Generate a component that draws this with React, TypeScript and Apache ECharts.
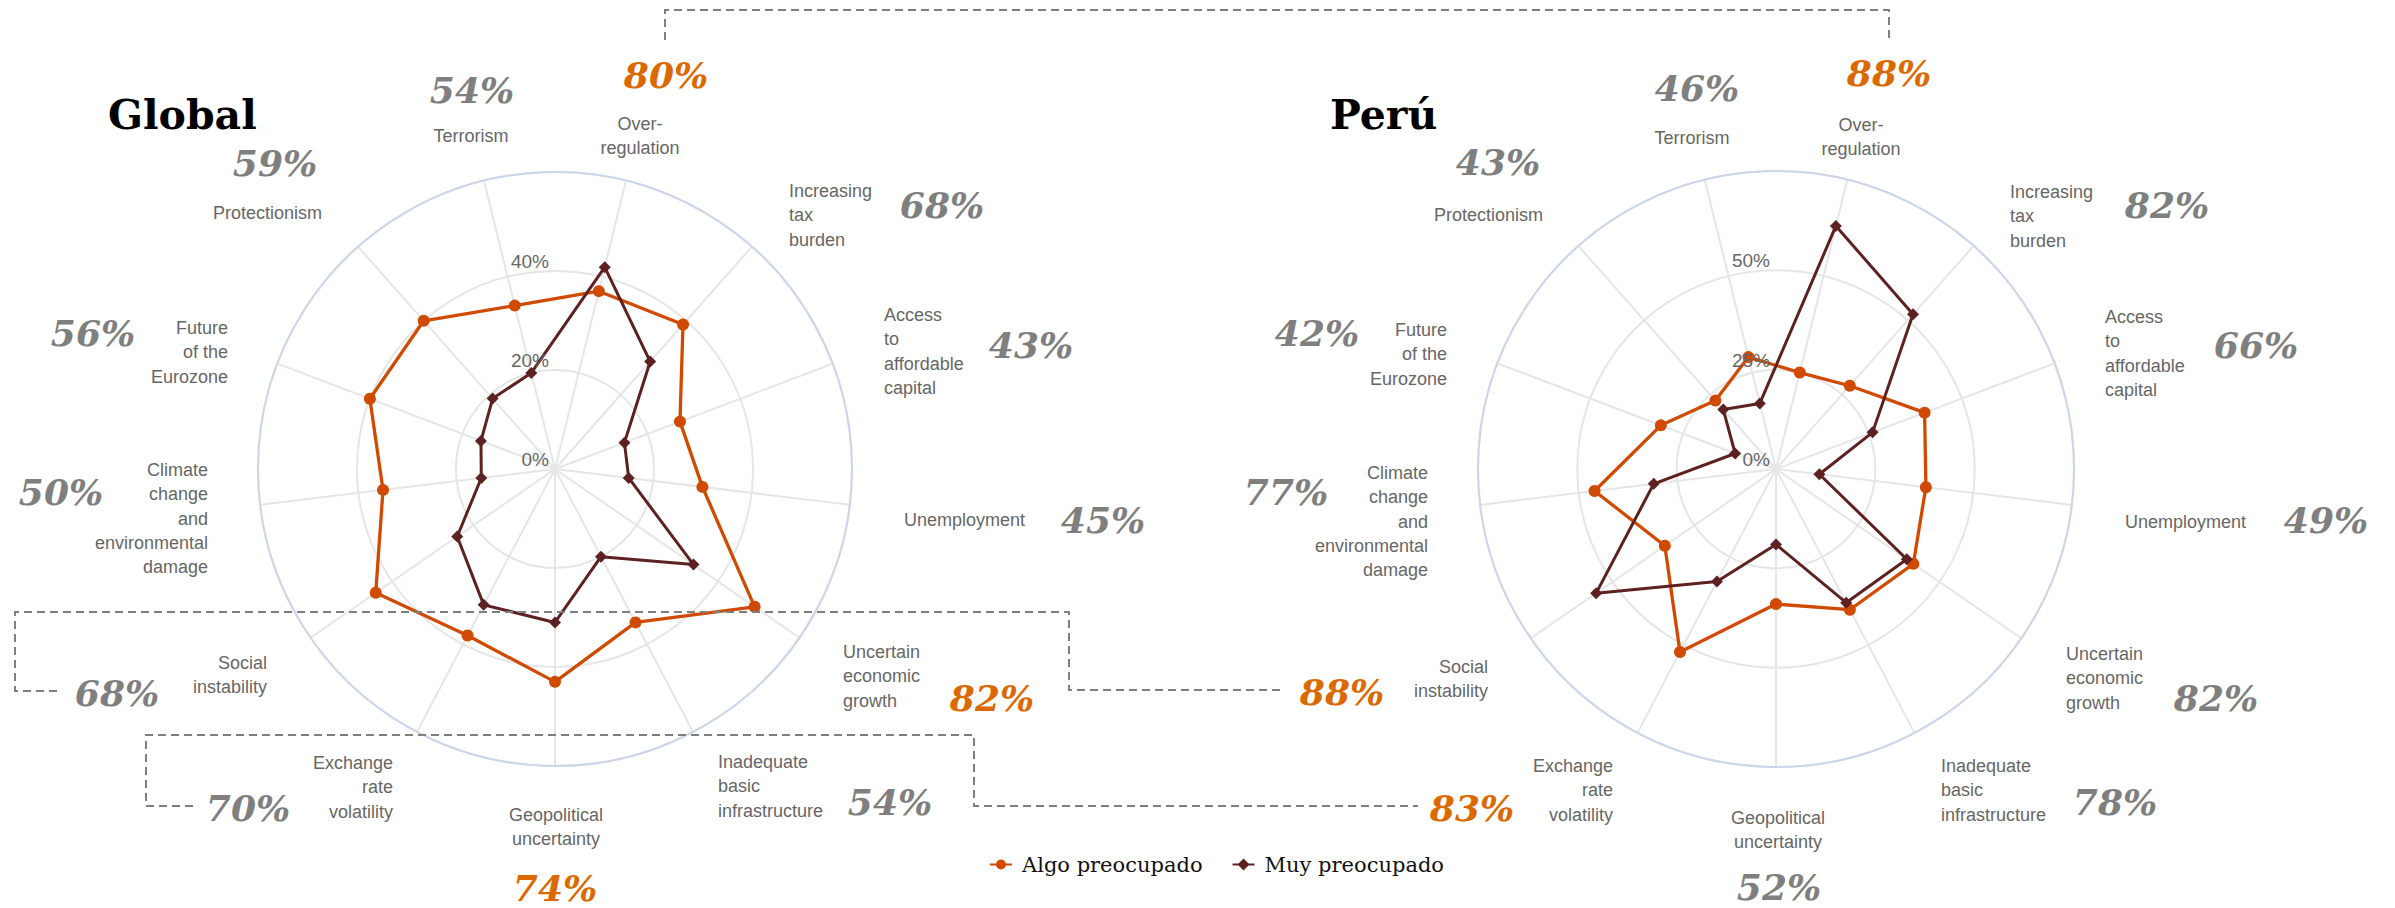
import React, { useEffect, useRef } from 'react';
import * as echarts from 'echarts';

// ---------- data ----------
const categories = [
  'Over-\nregulation',
  'Increasing\ntax\nburden',
  'Access\nto\naffordable\ncapital',
  'Unemployment',
  'Uncertain\neconomic\ngrowth',
  'Inadequate\nbasic\ninfrastructure',
  'Geopolitical\nuncertainty',
  'Exchange\nrate\nvolatility',
  'Social\ninstability',
  'Climate\nchange\nand\nenvironmental\ndamage',
  'Future\nof the\nEurozone',
  'Protectionism',
  'Terrorism',
];
const seriesNames = ['Algo preocupado', 'Muy preocupado'];
const globalAlgo = [37, 39, 27, 30, 49, 35, 43, 38, 44, 35, 40, 40, 34];
const globalMuy = [42, 29, 15, 15, 34, 20, 31, 31, 24, 15, 16, 19, 20];
const peruAlgo = [25, 28, 40, 38, 42, 40, 34, 52, 34, 46, 31, 23, 29];
const peruMuy = [63, 52, 26, 11, 40, 38, 19, 32, 55, 31, 11, 20, 17];
const globalTotals = [80, 68, 43, 45, 82, 54, 74, 70, 68, 50, 56, 59, 54];
const peruTotals = [88, 82, 66, 49, 82, 78, 52, 83, 88, 77, 42, 43, 46];
const globalHighlight = [0, 4, 6];
const peruHighlight = [0, 7, 8];
const globalMax = 60;
const globalStep = 20;
const peruMax = 75;
const peruStep = 25;
const titles = ['Global', 'Perú'];

// ---------- layout ----------
const ORANGE = '#d04a02';
const DARK = '#5e2121';
const PCT_ORANGE = '#dc6900';
const PCT_GRAY = '#7f7f7f';
const LABEL = '#666666';

const charts = [
  {
    center: [555, 469], radius: 297,
    title: [108, 115],
    labelPos: [[640, 124, 'center'], [789, 191, 'left'], [884, 315, 'left'], [904, 520, 'left'], [843, 652, 'left'], [718, 762, 'left'], [556, 815, 'center'], [393, 763, 'right'], [267, 663, 'right'], [208, 470, 'right'], [228, 328, 'right'], [322, 213, 'right'], [471, 136, 'center']],
    pctPos: [[666, 72.5], [942, 202.5], [1031, 342.5], [1103, 517.5], [992, 695.5], [890, 799.5], [555, 885.5], [248, 805.5], [117, 690.5], [61, 489.5], [93, 330.5], [275, 160.5], [472, 87.5]],
  },
  {
    center: [1776, 469], radius: 298,
    title: [1330, 115],
    labelPos: [[1861, 125, 'center'], [2010, 192, 'left'], [2105, 317, 'left'], [2125, 522, 'left'], [2066, 654, 'left'], [1941, 766, 'left'], [1778, 818, 'center'], [1613, 766, 'right'], [1488, 667, 'right'], [1428, 473, 'right'], [1447, 330, 'right'], [1543, 215, 'right'], [1692, 138, 'center']],
    pctPos: [[1889, 71], [2167, 202.5], [2256, 342.5], [2326, 517.5], [2216, 695.5], [2115, 799.5], [1779, 884.5], [1472, 805.5], [1342, 689.5], [1286, 489.5], [1317, 330.5], [1498, 159.5], [1697, 85.5]],
  },
];

const dashed = [
  [[665, 40], [665, 10], [1889, 10], [1889, 40]],
  [[57, 691], [15, 691], [15, 612], [1069, 612], [1069, 690], [1285, 690]],
  [[193, 806], [146, 806], [146, 735], [974, 735], [974, 806], [1418, 806]],
];

const LINE_H = 24.3;

function buildOption() {
  const n = categories.length;
  // ECharts radar runs counter-clockwise; reverse so the order is clockwise
  const order = categories.map((_, i) => (n - i) % n);
  const maxes = [globalMax, peruMax];
  const steps = [globalStep, peruStep];
  const algo = [globalAlgo, peruAlgo];
  const muy = [globalMuy, peruMuy];
  const totals = [globalTotals, peruTotals];
  const highlights = [globalHighlight, peruHighlight];

  const radar = charts.map((c, k) => ({
    center: c.center,
    radius: c.radius,
    startAngle: 90 - 180 / n,
    shape: 'circle',
    splitNumber: maxes[k] / steps[k],
    indicator: order.map((i) => ({ name: categories[i].replace(/\n/g, ' '), min: 0, max: maxes[k] })),
    axisName: { show: false },
    splitLine: { lineStyle: { color: '#e6e6e6', width: 2 } },
    splitArea: { show: false },
    axisLine: { lineStyle: { color: '#e6e6e6', width: 2 } },
    axisTick: { show: false },
    axisLabel: { show: false },
  }));

  const polar = charts.map((c) => ({ center: c.center, radius: c.radius }));
  const angleAxis = charts.map((_, k) => ({
    polarIndex: k,
    type: 'value',
    min: 0,
    max: 360,
    startAngle: 90,
    z: 5,
    axisLine: { show: true, lineStyle: { color: '#ccd6eb', width: 2 } },
    axisTick: { show: false },
    axisLabel: { show: false },
    splitLine: { show: false },
  }));
  const radiusAxis = charts.map((_, k) => ({
    polarIndex: k,
    type: 'value',
    min: 0,
    max: maxes[k],
    interval: steps[k],
    z: 6,
    axisLine: { show: false },
    axisTick: { show: false },
    splitLine: { show: false },
    axisLabel: {
      formatter: (v: number) => (v >= maxes[k] ? '' : v + '%'),
      color: LABEL,
      fontSize: 19,
      fontFamily: 'Liberation Sans, Arial, sans-serif',
      align: 'right',
      verticalAlign: 'bottom',
      margin: 6,
    },
  }));

  const series = charts.map((_, k) => ({
    type: 'radar',
    radarIndex: k,
    z: 3,
    data: [
      {
        name: seriesNames[0],
        value: order.map((i) => algo[k][i]),
        symbol: 'circle',
        symbolSize: 12,
        lineStyle: { color: ORANGE, width: 3.3 },
        itemStyle: { color: ORANGE },
      },
      {
        name: seriesNames[1],
        value: order.map((i) => muy[k][i]),
        symbol: 'diamond',
        symbolSize: 12,
        lineStyle: { color: DARK, width: 3 },
        itemStyle: { color: DARK },
      },
    ],
  }));

  const graphics: any[] = [];
  dashed.forEach((pts) => {
    graphics.push({
      type: 'polyline',
      z: 10,
      shape: { points: pts },
      style: { stroke: '#7f7f7f', lineWidth: 2, lineDash: [8, 5], fill: 'none' },
      silent: true,
    });
  });
  charts.forEach((c, k) => {
    graphics.push({
      type: 'text',
      x: c.title[0],
      y: c.title[1],
      style: {
        text: titles[k],
        fill: '#000',
        font: 'bold 41px "DejaVu Serif", serif',
        align: 'left',
        verticalAlign: 'middle',
      },
    });
    categories.forEach((cat, i) => {
      const p = c.labelPos[i] as any[];
      graphics.push({
        type: 'text',
        x: p[0],
        y: p[1] - LINE_H / 2,
        style: {
          text: cat,
          fill: LABEL,
          font: '18px "Liberation Sans", Arial, sans-serif',
          lineHeight: LINE_H,
          align: p[2],
          verticalAlign: 'top',
        },
      });
      const q = c.pctPos[i];
      graphics.push({
        type: 'text',
        x: q[0],
        y: q[1] + 2,
        style: {
          text: totals[k][i] + '%',
          fill: highlights[k].includes(i) ? PCT_ORANGE : PCT_GRAY,
          font: 'italic bold 36px "DejaVu Serif", serif',
          align: 'center',
          verticalAlign: 'middle',
        },
      });
    });
  });

  const ICON_C = 'path://M0,5H22V7H0Z M16,6A5,5 0 1,1 6,6A5,5 0 1,1 16,6Z';
  const ICON_D = 'path://M0,5H22V7H0Z M11,0L17,6L11,12L5,6Z';

  return {
    animation: false,
    backgroundColor: '#ffffff',
    radar,
    polar,
    angleAxis,
    radiusAxis,
    legend: {
      left: 985,
      top: 849,
      itemWidth: 22,
      itemHeight: 12,
      itemGap: 30,
      selectedMode: false,
      data: [
        { name: seriesNames[0], icon: ICON_C },
        { name: seriesNames[1], icon: ICON_D },
      ],
      textStyle: { fontFamily: '"DejaVu Serif", serif', fontSize: 21, color: '#111', padding: [0, 0, 0, 5] },
    },
    series,
    graphic: { elements: graphics },
  };
}

export default function App() {
  const ref = useRef<HTMLDivElement>(null);
  useEffect(() => {
    if (!ref.current) return;
    const chart = echarts.init(ref.current, undefined, { renderer: 'svg' });
    chart.setOption(buildOption() as any);
    return () => chart.dispose();
  }, []);
  return (
    <div
      ref={ref}
      style={{ position: 'absolute', left: 0, top: 0, width: 2395, height: 908, background: '#fff' }}
    />
  );
}
